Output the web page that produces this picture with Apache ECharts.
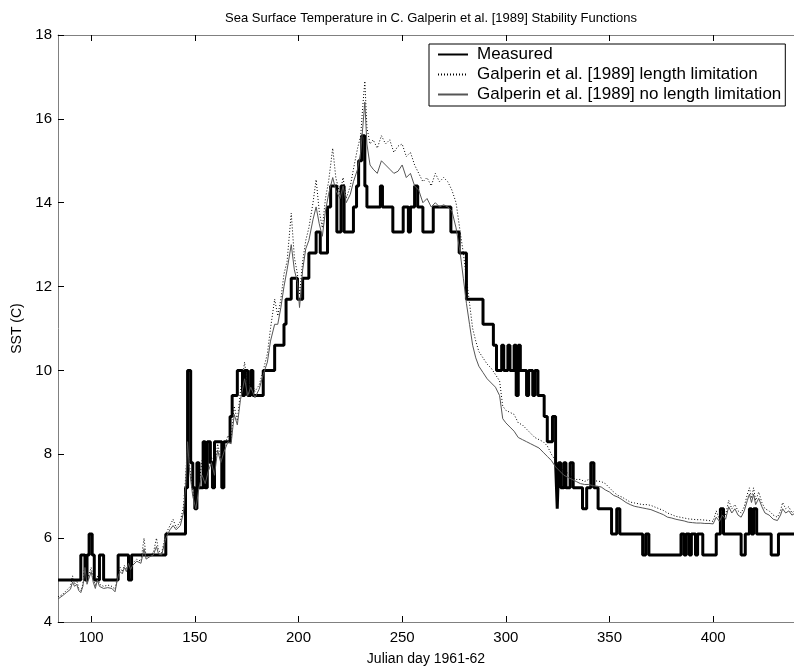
<!DOCTYPE html>
<html>
<head>
<meta charset="utf-8">
<script src="https://cdn.jsdelivr.net/npm/echarts@6/dist/echarts.min.js"></script>
<style>
  html, body { margin: 0; padding: 0; background: #fff; }
  #chart { width: 794px; height: 671px; }
</style>
</head>
<body>
<div id="chart"></div>
<script>
// Measured SST: day on which each new reading starts, and its value (C)
const measuredDay = [84, 95, 97, 98, 99, 100.5, 101.5, 104, 106, 113, 118, 119.5, 136, 145.5, 146.5, 148, 149, 150, 151, 152, 153, 154, 155, 156, 157.5, 158.5, 159.5, 163, 164, 167, 168, 170.5, 173, 174, 175.5, 177, 178, 183, 188.5, 193, 194, 196.5, 199.5, 202, 205, 208.5, 210.5, 214, 215.5, 218.5, 220.5, 222, 226.5, 228, 229, 230.5, 232, 233, 239.5, 240.5, 245.5, 250.5, 253, 254, 256, 257.5, 260, 265, 273.5, 277.5, 281, 289, 294, 295.5, 298, 299, 301, 302, 304, 305, 306, 307, 310, 311, 313, 314, 315.5, 318.5, 320, 322.5, 324, 324.8, 325.5, 326.5, 328, 329, 331, 332.5, 334, 337, 339, 341, 342.5, 344.5, 351, 353.5, 355, 366, 367.5, 369, 384.5, 386, 387, 388.5, 389.5, 391.5, 392.5, 395, 401.5, 403.5, 405, 413.5, 415.5, 417.5, 418.5, 419.5, 421, 428, 431.5, 439];
const measuredSST = [5.0, 5.6, 5.0, 5.6, 6.1, 5.6, 5.0, 5.6, 5.0, 5.6, 5.0, 5.6, 6.1, 7.2, 10.0, 7.8, 7.2, 6.7, 7.8, 7.2, 7.2, 8.3, 7.2, 8.3, 7.8, 7.2, 8.3, 7.2, 8.3, 8.9, 9.4, 10.0, 9.4, 10.0, 9.4, 10.0, 9.4, 10.0, 10.6, 11.1, 11.7, 12.2, 11.7, 12.2, 12.8, 13.3, 12.8, 13.9, 14.4, 13.3, 14.4, 13.3, 13.9, 14.4, 15.0, 15.6, 14.4, 13.9, 14.4, 13.9, 13.3, 13.9, 13.3, 13.9, 14.4, 13.9, 13.3, 13.9, 13.3, 12.8, 11.7, 11.1, 10.6, 10.0, 10.6, 10.0, 10.6, 10.0, 10.6, 9.4, 10.6, 10.0, 9.4, 10.0, 9.4, 10.0, 9.4, 8.9, 8.3, 8.9, 7.8, 6.7, 7.8, 7.2, 7.8, 7.2, 7.8, 7.2, 7.2, 6.7, 7.2, 7.8, 7.2, 6.7, 6.1, 6.7, 6.1, 5.6, 6.1, 5.6, 6.1, 5.6, 6.1, 5.6, 6.1, 5.6, 6.1, 5.6, 6.1, 6.7, 6.1, 5.6, 6.1, 6.7, 6.1, 6.7, 6.1, 5.6, 6.1, 6.1];

// Model runs, sampled on a shared set of days
const modelDay = [84, 86, 88, 90, 91, 92, 93, 94, 95, 96, 97, 98, 99, 100, 101, 102, 103, 104, 106, 108, 110, 111.5, 113, 114, 115, 116, 117, 118, 119, 120, 122, 124, 125.5, 126.5, 128, 130, 131.5, 132.5, 134, 136, 138, 139.5, 141, 143, 144.5, 145.5, 146.5, 147.5, 149, 150.5, 152, 153.5, 155, 156.5, 158, 159.5, 161, 162.5, 164, 166, 167.5, 169, 170.5, 172, 174, 175.5, 177, 179, 181, 183, 185, 186.5, 188.5, 190, 191.5, 193, 194.5, 196.5, 198, 199.5, 200.5, 202, 203.5, 205, 207, 208.5, 210, 211.5, 213, 214.5, 216.5, 218, 220, 221.5, 223, 225, 226.5, 228.5, 230, 231, 232, 233, 234.5, 236, 238, 240, 242, 244, 246, 248, 250, 252, 254, 256, 258, 260, 262, 264, 266, 268, 270, 272, 274, 276, 278, 279.5, 281, 282.5, 284, 285.5, 287, 289, 291, 293, 295, 297, 298.5, 300, 302, 304, 306, 308, 310, 312, 314, 316, 318, 320, 322, 324, 326, 328, 330, 332, 334, 336, 338, 340, 342, 344, 346, 348, 350, 352, 354, 356, 358, 360, 362, 364, 366, 368, 370, 372, 374, 376, 378, 380, 382, 384, 386, 388, 390, 392, 394, 396, 398, 400, 401.5, 403, 404.5, 406, 407.5, 409, 410.5, 412, 413.5, 415, 416.5, 417.5, 418.5, 419.5, 420.5, 422, 423.5, 425, 427, 429, 431, 432.5, 433.5, 435, 436.5, 438, 439];
const lengthLimSST = [4.60, 4.65, 4.75, 4.85, 5.10, 4.90, 5.00, 4.80, 4.75, 4.90, 5.40, 4.95, 5.15, 5.30, 5.05, 4.85, 5.10, 4.90, 4.85, 4.88, 4.85, 4.78, 5.15, 5.30, 5.20, 5.35, 5.25, 5.45, 5.30, 5.40, 5.50, 5.45, 6.00, 5.55, 5.60, 5.65, 6.00, 5.70, 5.65, 6.10, 6.30, 6.45, 6.25, 6.40, 6.75, 7.40, 8.30, 7.70, 7.10, 6.80, 7.30, 7.85, 7.40, 7.70, 7.95, 7.60, 8.25, 7.90, 8.15, 8.45, 8.35, 9.15, 8.80, 9.50, 10.20, 9.55, 9.75, 9.50, 9.65, 10.00, 10.40, 11.00, 11.70, 11.30, 11.70, 12.30, 12.60, 13.75, 12.70, 12.30, 11.80, 12.60, 13.10, 13.40, 14.00, 14.55, 13.80, 13.40, 14.10, 14.50, 15.30, 14.60, 14.20, 14.60, 14.10, 14.40, 14.80, 15.30, 15.60, 16.30, 16.90, 15.80, 15.40, 15.50, 15.30, 15.60, 15.40, 15.50, 15.20, 15.35, 15.40, 15.10, 15.20, 14.90, 14.70, 14.50, 14.60, 14.40, 14.70, 14.50, 14.60, 14.50, 14.30, 14.00, 13.30, 12.80, 12.20, 11.60, 11.00, 10.70, 10.45, 10.30, 10.15, 10.05, 9.90, 9.75, 9.15, 9.05, 9.00, 8.95, 8.75, 8.70, 8.60, 8.50, 8.40, 8.35, 8.30, 8.20, 8.00, 7.85, 7.70, 7.60, 7.55, 7.45, 7.40, 7.40, 7.35, 7.40, 7.38, 7.36, 7.35, 7.30, 7.20, 7.10, 7.02, 6.98, 6.92, 6.86, 6.84, 6.82, 6.80, 6.80, 6.78, 6.74, 6.70, 6.66, 6.60, 6.56, 6.52, 6.50, 6.48, 6.46, 6.45, 6.44, 6.44, 6.43, 6.42, 6.40, 6.65, 6.45, 6.70, 6.55, 6.90, 6.70, 6.80, 6.65, 6.60, 6.75, 7.05, 7.20, 6.95, 7.20, 6.90, 7.10, 6.85, 6.70, 6.65, 6.55, 6.50, 6.65, 6.85, 6.70, 6.75, 6.60, 6.65];
const noLengthLimSST = [4.55, 4.62, 4.70, 4.78, 4.95, 4.85, 4.90, 4.75, 4.70, 4.85, 5.30, 4.90, 5.05, 5.20, 4.95, 4.80, 5.00, 4.85, 4.80, 4.82, 4.80, 4.72, 5.10, 5.20, 5.15, 5.30, 5.20, 5.40, 5.25, 5.35, 5.45, 5.40, 5.75, 5.50, 5.55, 5.60, 5.80, 5.62, 5.60, 6.00, 6.20, 6.30, 6.20, 6.30, 6.60, 7.20, 8.30, 7.60, 7.00, 6.70, 7.20, 7.50, 7.30, 7.60, 7.80, 7.50, 8.10, 7.80, 8.05, 8.30, 8.25, 8.95, 8.70, 9.30, 9.80, 9.40, 9.60, 9.35, 9.55, 9.90, 10.20, 10.70, 11.10, 11.10, 11.50, 12.00, 12.40, 13.00, 12.40, 12.10, 11.50, 12.40, 12.90, 13.10, 13.60, 13.90, 13.50, 13.20, 13.80, 14.20, 14.60, 14.30, 14.10, 14.40, 14.00, 14.20, 14.50, 14.80, 15.20, 15.80, 16.40, 15.40, 14.90, 14.80, 14.70, 15.00, 14.90, 14.80, 14.70, 14.75, 14.90, 14.60, 14.70, 14.40, 14.30, 14.00, 14.10, 13.90, 14.00, 13.90, 13.95, 13.90, 13.80, 13.40, 12.80, 12.20, 11.60, 11.10, 10.60, 10.30, 10.10, 9.95, 9.80, 9.70, 9.60, 9.40, 8.85, 8.75, 8.65, 8.55, 8.40, 8.35, 8.30, 8.25, 8.20, 8.15, 8.05, 7.95, 7.85, 7.70, 7.60, 7.50, 7.45, 7.40, 7.35, 7.30, 7.28, 7.28, 7.25, 7.24, 7.22, 7.15, 7.10, 7.02, 6.98, 6.92, 6.85, 6.80, 6.76, 6.74, 6.72, 6.70, 6.68, 6.64, 6.60, 6.56, 6.50, 6.48, 6.45, 6.43, 6.41, 6.38, 6.37, 6.36, 6.36, 6.35, 6.35, 6.34, 6.50, 6.40, 6.55, 6.45, 6.75, 6.60, 6.70, 6.55, 6.50, 6.65, 6.90, 7.05, 6.85, 7.05, 6.80, 6.95, 6.75, 6.60, 6.55, 6.45, 6.42, 6.55, 6.70, 6.60, 6.65, 6.55, 6.58];

const dayTicks = [100, 150, 200, 250, 300, 350, 400];
const sstTicks = [4, 6, 8, 10, 12, 14, 16, 18];

const seriesNames = [
  'Measured',
  'Galperin et al. [1989] length limitation',
  'Galperin et al. [1989] no length limitation'
];

const pairs = (xs, ys) => xs.map((x, i) => [x, ys[i]]);
const FONT = 'Liberation Sans, Arial, Helvetica, sans-serif';
const axisGray = '#808080';

const chart = echarts.init(document.getElementById('chart'), null, { renderer: 'canvas' });

const baseX = {
  type: 'value',
  min: 84,
  max: 439,
  splitLine: { show: false },
  axisLine: { show: true, onZero: false, lineStyle: { color: axisGray, width: 1 } },
  axisTick: { show: true, inside: true, length: 6, customValues: dayTicks, lineStyle: { color: '#000' } },
  axisLabel: { customValues: dayTicks, color: '#000', fontFamily: FONT, fontSize: 15, margin: 8 }
};

chart.setOption({
  animation: false,
  backgroundColor: '#fff',
  title: {
    text: 'Sea Surface Temperature in C. Galperin et al. [1989] Stability Functions',
    left: 426, textAlign: 'center', top: 7,
    textStyle: { fontFamily: FONT, fontSize: 13, fontWeight: 'normal', color: '#000' }
  },
  legend: {
    data: seriesNames,
    orient: 'vertical',
    left: 429, top: 44,
    backgroundColor: '#fff',
    borderColor: '#000', borderWidth: 1,
    padding: [2, 4, 3, 8],
    itemGap: 3, itemWidth: 30, itemHeight: 16,
    itemStyle: { opacity: 0 },
    textStyle: { fontFamily: FONT, fontSize: 17, color: '#000', padding: [0, 0, 0, 4] }
  },
  grid: { left: 58, right: 0, top: 35, bottom: 48 },
  xAxis: [
    Object.assign({}, baseX, {
      position: 'bottom',
      name: 'Julian day 1961-62', nameLocation: 'middle', nameGap: 30,
      nameTextStyle: { fontFamily: FONT, fontSize: 14, color: '#000' }
    }),
    Object.assign({}, baseX, {
      position: 'top',
      axisLabel: { show: false }
    })
  ],
  yAxis: {
    type: 'value',
    min: 4, max: 18, interval: 2,
    splitLine: { show: false },
    axisLine: { show: true, lineStyle: { color: axisGray, width: 1 } },
    axisTick: { show: true, inside: true, length: 6, lineStyle: { color: '#000' } },
    axisLabel: { color: '#000', fontFamily: FONT, fontSize: 15, margin: 6,
      formatter: v => (sstTicks.includes(v) ? String(v) : '') },
    name: 'SST (C)', nameLocation: 'middle', nameGap: 32, nameRotate: 90,
    nameTextStyle: { fontFamily: FONT, fontSize: 14, color: '#000' }
  },
  series: [
    {
      name: seriesNames[0], type: 'line', step: 'end',
      data: pairs(measuredDay, measuredSST),
      symbol: 'none', z: 2,
      lineStyle: { color: '#000', width: 3 },
      itemStyle: { color: '#000' }
    },
    {
      name: seriesNames[1], type: 'line',
      data: pairs(modelDay, lengthLimSST),
      symbol: 'none', z: 3,
      lineStyle: { color: '#000', width: 1, type: [1, 2] },
      itemStyle: { color: '#000' }
    },
    {
      name: seriesNames[2], type: 'line',
      data: pairs(modelDay, noLengthLimSST),
      symbol: 'none', z: 4,
      lineStyle: { color: '#555', width: 1 },
      itemStyle: { color: '#555' }
    }
  ]
});
</script>
</body>
</html>
